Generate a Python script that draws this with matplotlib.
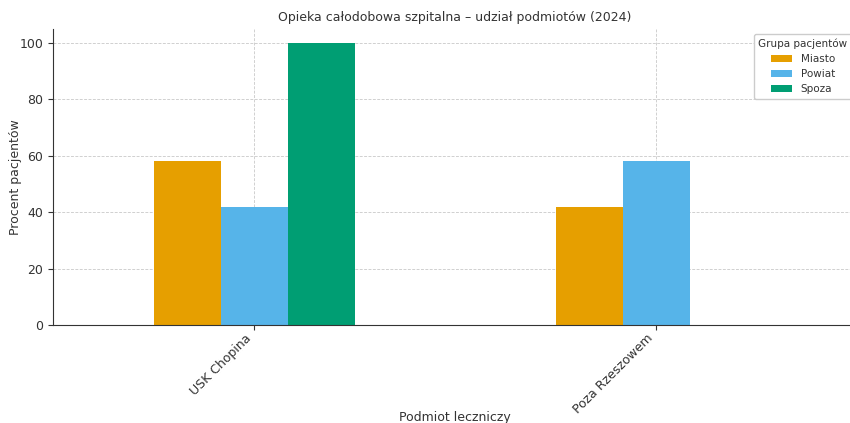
import matplotlib.pyplot as plt
import numpy as np

categories = ['USK Chopina', 'Poza Rzeszowem']
groups = ['Miasto', 'Powiat', 'Spoza']
miasto = [58, 42]
powiat = [42, 58]
spoza = [100, 0]
colors = ['#E69F00', '#56B4E9', '#009E73']

plt.rcParams.update({
    'font.family': 'DejaVu Sans',
    'text.color': '#333333',
    'axes.labelcolor': '#333333',
    'xtick.color': '#333333',
    'ytick.color': '#333333',
})

fig = plt.figure(figsize=(8.5, 4.23), dpi=100)
ax = fig.add_axes([53 / 850, 1 - 325 / 423, 804 / 850, (325 - 29) / 423])

x = np.arange(len(categories))
width = 0.5 / 3
for i, (name, vals) in enumerate(zip(groups, [miasto, powiat, spoza])):
    ax.bar(x + (i - 1) * width, vals, width, label=name, color=colors[i], zorder=2)

ax.set_xlim(-0.5, 1.5)
ax.set_ylim(0, 105)
ax.set_xticks(x)
ax.set_xticklabels(categories, rotation=45, ha='right', fontsize=9)
ax.tick_params(axis='x', pad=1.5)
ax.tick_params(axis='y', labelsize=9)
ax.set_yticks([0, 20, 40, 60, 80, 100])
ax.grid(True, linestyle=(0, (3, 1.5)), color='#d0d0d0', linewidth=0.7, zorder=0)
ax.set_axisbelow(True)
for s in ['top', 'right']:
    ax.spines[s].set_visible(False)
for s in ['left', 'bottom']:
    ax.spines[s].set_color('#333333')

ax.set_title('Opieka całodobowa szpitalna – udział podmiotów (2024)', fontsize=9, pad=6)
ax.set_xlabel('Podmiot leczniczy', fontsize=9)
ax.set_ylabel('Procent pacjentów', fontsize=9)
ax.yaxis.set_label_coords((22 - 53) / 804, 0.5)
ax.xaxis.set_label_coords(0.5, (325 - 411) / 296)
ax.legend(title='Grupa pacjentów', loc='upper right', bbox_to_anchor=(1.0, 1.0),
          fontsize=7.5, title_fontsize=7.5, framealpha=1)

fig.savefig('out.png', dpi=100)
